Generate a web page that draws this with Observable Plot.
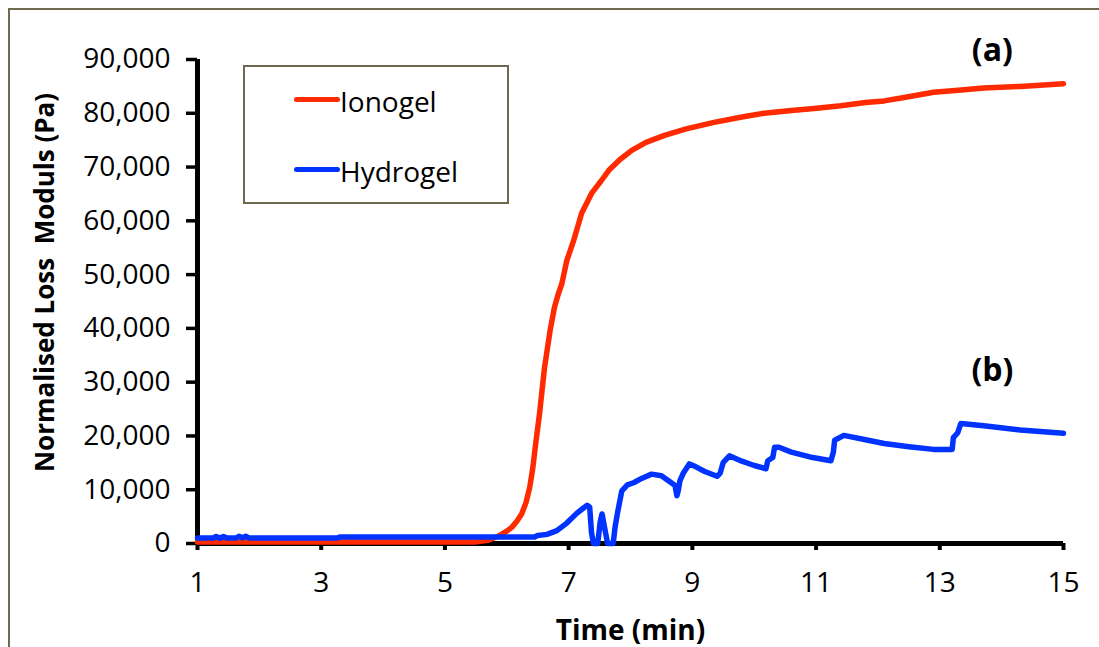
<!DOCTYPE html>
<html>
<head>
<meta charset="utf-8">
<script src="https://cdn.jsdelivr.net/npm/d3@7"></script>
<script src="https://cdn.jsdelivr.net/npm/@observablehq/plot@0.6"></script>
<style>
  html, body { margin: 0; padding: 0; background: white; }
  body { width: 1099px; height: 647px; overflow: hidden; position: relative; font-family: "Open Sans", sans-serif; }
  #chart { position: absolute; left: 0; top: 0; }
  #chart svg text { white-space: pre; }
  .frame { position: absolute; left: 8px; top: 8px; width: 1300px; height: 900px; border: 2px solid #6e6a50; box-sizing: border-box; }
  .legend { position: absolute; left: 243px; top: 65px; width: 266px; height: 139px; border: 2.5px solid #6e6a50; box-sizing: border-box; background: white; }
  .lg-line { position: absolute; left: 294px; width: 46px; height: 5px; border-radius: 3px; }
  .lg-text { position: absolute; left: 340px; font-size: 28px; line-height: 28px; color: black; font-family: "Open Sans", sans-serif; white-space: nowrap; }
</style>
</head>
<body>
<div class="frame"></div>
<div id="chart"></div>
<script>
// ---- data ----
const seriesNames = ["Ionogel", "Hydrogel"];
const seriesColors = ["#ff2a00", "#0033ff"];

const ionogelTime = [1, 3, 5.5, 5.7, 5.85, 6.0, 6.08, 6.16, 6.24, 6.31, 6.37, 6.42, 6.46, 6.53, 6.61, 6.70, 6.77, 6.83, 6.89, 6.97, 7.08, 7.21, 7.37, 7.53, 7.65, 7.83, 8.02, 8.25, 8.55, 8.9, 9.35, 9.8, 10.16, 10.6, 10.97, 11.4, 11.8, 12.1, 12.4, 12.9, 13.3, 13.71, 14.3, 15];
const ionogelModulus = [300, 300, 300, 600, 1300, 2300, 3000, 4100, 5500, 7600, 10400, 14000, 17900, 24200, 32700, 39600, 43900, 46300, 48300, 52600, 56300, 61400, 65100, 67500, 69400, 71400, 73100, 74600, 75900, 77100, 78300, 79300, 80000, 80500, 80900, 81400, 82000, 82300, 82900, 83900, 84300, 84700, 85000, 85500];

const hydrogelTime = [1.00, 1.25, 1.30, 1.36, 1.42, 1.48, 1.62, 1.67, 1.73, 1.78, 1.84, 3.25, 3.30, 6.45, 6.50, 6.65, 6.81, 6.97, 7.13, 7.24, 7.30, 7.34, 7.37, 7.40, 7.47, 7.51, 7.54, 7.59, 7.63, 7.72, 7.75, 7.79, 7.86, 7.95, 8.05, 8.18, 8.34, 8.50, 8.66, 8.72, 8.75, 8.77, 8.80, 8.85, 8.95, 9.05, 9.20, 9.40, 9.45, 9.50, 9.60, 9.80, 10.00, 10.19, 10.22, 10.30, 10.33, 10.40, 10.60, 10.90, 11.24, 11.28, 11.30, 11.45, 11.80, 12.10, 12.50, 12.90, 13.20, 13.22, 13.29, 13.34, 13.71, 14.30, 15.00];
const hydrogelModulus = [1000, 1000, 1300, 1000, 1300, 1000, 1000, 1350, 1050, 1350, 1000, 1000, 1200, 1200, 1500, 1700, 2400, 3800, 5600, 6600, 7100, 6800, 2000, 0, 0, 4000, 5500, 2400, 0, 0, 3000, 5700, 9800, 10900, 11300, 12100, 12900, 12600, 11300, 10800, 8900, 9700, 11700, 13000, 14800, 14300, 13400, 12500, 13100, 15100, 16300, 15300, 14500, 13900, 15400, 16000, 17900, 17900, 17000, 16100, 15400, 17000, 19200, 20100, 19300, 18600, 18000, 17500, 17500, 19700, 20600, 22300, 21900, 21100, 20500];

const xTicks = [1, 3, 5, 7, 9, 11, 13, 15];
const yTicks = [0, 10000, 20000, 30000, 40000, 50000, 60000, 70000, 80000, 90000];
const xLabel = "Time (min)";
const yLabel = "Normalised Loss  Moduls (Pa)";
const annotLabels = ["(a)", "(b)"];
const annotTime = [13.85, 13.85];
const annotModulus = [91700, 32200];

// ---- build tables ----
const ionogel = ionogelTime.map((t, i) => ({t, v: ionogelModulus[i]}));
const hydrogel = hydrogelTime.map((t, i) => ({t, v: hydrogelModulus[i]}));
const annots = annotLabels.map((label, i) => ({label, t: annotTime[i], v: annotModulus[i]}));

const chart = Plot.plot({
  width: 1099,
  height: 647,
  marginLeft: 197,
  marginRight: 36,
  marginTop: 59,
  marginBottom: 104,
  x: {domain: [1, 15]},
  y: {domain: [0, 90000]},
  style: {fontFamily: "'Open Sans', sans-serif", fontSize: "28px", color: "black", background: "transparent", overflow: "visible"},
  marks: [
    Plot.axisY({ticks: yTicks, tickSize: 11, tickPadding: 16, tickFormat: d3.format(","), strokeWidth: 3.5, fontSize: 28, label: null}),
    Plot.axisX({ticks: xTicks, tickSize: 7, tickPadding: 22, strokeWidth: 4, fontSize: 28, label: null}),
    Plot.ruleX([1], {stroke: "black", strokeWidth: 5}),
    Plot.ruleY([0], {stroke: "black", strokeWidth: 5}),
    Plot.line(ionogel, {x: "t", y: "v", stroke: seriesColors[0], strokeWidth: 5.5}),
    Plot.line(hydrogel, {x: "t", y: "v", stroke: seriesColors[1], strokeWidth: 5.5}),
    Plot.text(annots, {x: "t", y: "v", text: "label", fontWeight: "bold", fontSize: 32, lineAnchor: "middle", clip: false}),
    Plot.text([xLabel], {frameAnchor: "bottom", dy: 88, fontWeight: "bold", fontSize: 28, lineAnchor: "middle", textAnchor: "middle"}),
    Plot.text([yLabel], {frameAnchor: "left", rotate: -90, dx: -152, dy: -19, fontWeight: "bold", fontSize: 26, lineAnchor: "middle", textAnchor: "middle"})
  ]
});
document.getElementById("chart").appendChild(chart);

// ---- legend ----
const legend = document.createElement("div");
legend.className = "legend";
document.body.appendChild(legend);
const legendY = [99, 169];
seriesNames.forEach((name, i) => {
  const line = document.createElement("div");
  line.className = "lg-line";
  line.style.top = (legendY[i] - 2.5) + "px";
  line.style.background = seriesColors[i];
  document.body.appendChild(line);
  const txt = document.createElement("div");
  txt.className = "lg-text";
  txt.style.top = (legendY[i] + 13 - 25) + "px";
  txt.textContent = name;
  document.body.appendChild(txt);
});
</script>
</body>
</html>
